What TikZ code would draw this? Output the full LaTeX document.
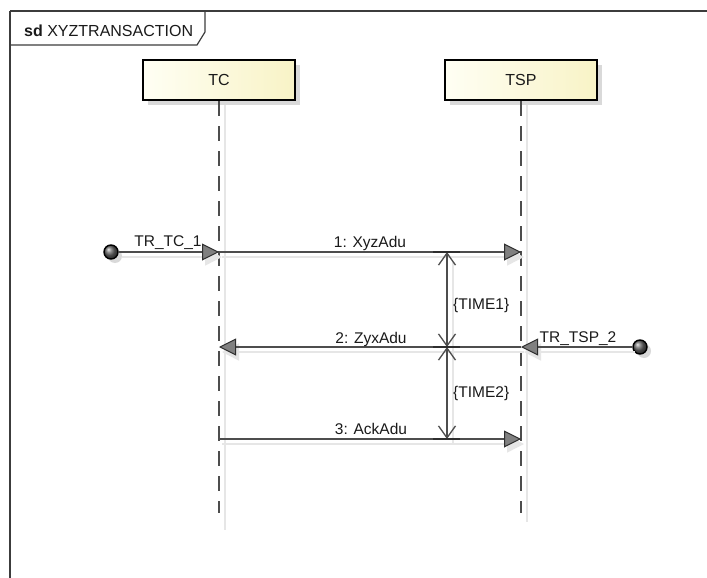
\documentclass[tikz,border=0pt]{standalone}
\usepackage{fontspec}
\setmainfont{Liberation Sans}
\usetikzlibrary{arrows.meta}

\definecolor{frameline}{HTML}{3C3C3C}
\definecolor{shade}{HTML}{D9D9D9}
\definecolor{softshade}{HTML}{E6E6E6}
\definecolor{msgline}{HTML}{4D4D4D}
\definecolor{headfill}{HTML}{808080}
\definecolor{headline}{HTML}{2E2E2E}
\definecolor{boxleft}{HTML}{FFFFF4}
\definecolor{boxright}{HTML}{F8F3C6}
\definecolor{txt}{HTML}{1A1A1A}

\tikzset{
  lifebox/.style={draw=black, line width=2pt, minimum width=152pt, minimum height=40pt,
    left color=boxleft, right color=boxright, text=txt, font=\fontsize{16}{19}\selectfont},
  boxshadow/.style={fill=shade, draw=none, minimum width=152pt, minimum height=40pt},
  lifeline/.style={draw=msgline, line width=1.6pt, dash pattern=on 15pt off 10pt},
  lifeshadow/.style={draw=softshade, line width=1.6pt},
  msghead/.tip={Triangle[length=17pt, width=17pt, fill=headfill, color=headline, line width=1pt]},
  shadowhead/.tip={Triangle[length=17pt, width=17pt, fill=softshade, color=softshade]},
  msg/.style={draw=msgline, line width=1.2pt, -msghead},
  msgshadow/.style={draw=softshade, line width=1.4pt, -shadowhead},
  durline/.style={draw=msgline, line width=1.3pt,
    {Straight Barb[length=12pt, width=17pt]}-{Straight Barb[length=12pt, width=17pt]}},
  durtick/.style={draw=headline, line width=1.6pt},
  lbl/.style={text=txt, font=\fontsize{15.5}{18}\selectfont, inner sep=0pt, anchor=base},
  gate/.style={circle, minimum size=14pt, inner sep=0pt, draw=black, line width=1.4pt,
    shading=ball, ball color=gray!80!black},
  gateshadow/.style={circle, minimum size=14pt, inner sep=0pt, fill=shade, draw=none},
  framepath/.style={draw=frameline, line width=1.8pt},
}

\begin{document}
\begin{tikzpicture}[x=1pt, y=-1pt]
  % page area
  \useasboundingbox (0,0) rectangle (707,578);
  \fill[white] (0,0) rectangle (707,578);

  % interaction frame and its name tab
  \draw[framepath] (10,11) -- (720,11);
  \draw[framepath] (10,11) -- (10,590);
  \draw[framepath, line width=1.2pt] (10,45) -- (197,45) -- (205,32) -- (205,11);
  \node[anchor=base west, inner sep=0pt, text=txt, font=\fontsize{16}{19}\selectfont]
    (title) at (24,36.5) {\textbf{sd} XYZTRANSACTION};

  % drop shadows of lifelines and constraint
  \node[boxshadow] (tcs) at (224,85) {};
  \node[boxshadow] (tsps) at (526,85) {};
  \coordinate (tcsa) at (225,105);  \coordinate (tcsb) at (225,530);
  \coordinate (tspsa) at (527,105); \coordinate (tspsb) at (527,522);
  \draw[lifeshadow] (tcsa) -- (tcsb);
  \draw[lifeshadow] (tspsa) -- (tspsb);
  \coordinate (dsa) at (453,262); \coordinate (dsb) at (453,445);
  \draw[lifeshadow, line width=1.2pt] (dsa) -- (dsb);

  % lifelines
  \node[lifebox] (tc) at (219,80) {TC};
  \node[lifebox] (tsp) at (521,80) {TSP};
  \coordinate (tcend) at (219,513);
  \coordinate (tspend) at (521,513);
  \draw[lifeline] (tc.south) -- (tcend);
  \draw[lifeline] (tsp.south) -- (tspend);

  % message anchor points on the lifelines
  \coordinate (tc1) at (219,252);  \coordinate (tsp1) at (521,252);
  \coordinate (tc2) at (219,347);  \coordinate (tsp2) at (521,347);
  \coordinate (tc3) at (219,439);  \coordinate (tsp3) at (521,439);

  % found-message gates
  \node[gateshadow] (g1s) at (115,256) {};
  \node[gateshadow] (g2s) at (644,351) {};
  \node[gate] (g1) at (111,252) {};
  \node[gate] (g2) at (640,347) {};

  % message shadows
  \draw[msgshadow] ([shift={(3,5)}]g1.east) -- ([shift={(3,5)}]tc1);
  \draw[msgshadow] ([shift={(3,5)}]tc1) -- ([shift={(3,5)}]tsp1);
  \draw[msgshadow] ([shift={(3,5)}]tsp2) -- ([shift={(3,5)}]tc2);
  \draw[msgshadow] ([shift={(3,5)}]g2.west) -- ([shift={(3,5)}]tsp2);
  \draw[msgshadow] ([shift={(3,5)}]tc3) -- ([shift={(3,5)}]tsp3);

  % messages
  \draw[msg] (g1) -- (tc1);
  \draw[msg] (tc1) -- (tsp1);
  \draw[msg] (tsp2) -- (tc2);
  \draw[msg] (g2) -- (tsp2);
  \draw[msg] (tc3) -- (tsp3);

  % duration constraints
  \coordinate (d1) at (447,252);
  \coordinate (d2) at (447,347);
  \coordinate (d3) at (447,439);
  \draw[durline] (d1) -- (d2);
  \draw[durline] (d2) -- (d3);
  \draw[durtick] ([shift={(-14,0)}]d1) -- ([shift={(13,0)}]d1);
  \draw[durtick] ([shift={(-14,0)}]d2) -- ([shift={(13,0)}]d2);
  \draw[durtick] ([shift={(-14,0)}]d3) -- ([shift={(13,0)}]d3);

  % labels
  \node[lbl] (l1) at (370,247.5) {1: XyzAdu};
  \node[lbl] (l2) at (371,343) {2: ZyxAdu};
  \node[lbl] (l3) at (371,434) {3: AckAdu};
  \node[lbl] (lg1) at (168,246.5) {TR\_TC\_1};
  \node[lbl] (lg2) at (578,342) {TR\_TSP\_2};
  \node[lbl, anchor=west] (t1) at (453,305) {\{TIME1\}};
  \node[lbl, anchor=west] (t2) at (453,393) {\{TIME2\}};
\end{tikzpicture}
\end{document}
